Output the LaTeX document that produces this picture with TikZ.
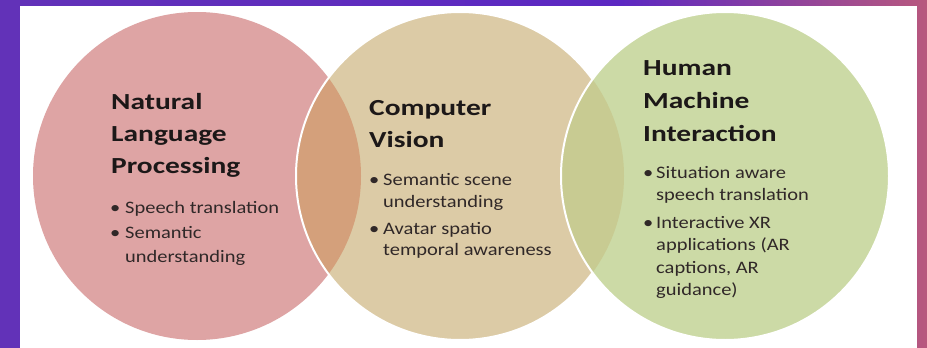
\documentclass[tikz,border=0pt]{standalone}
\usepackage{fontspec}
\setmainfont[FakeStretch=1.28]{Carlito}
\newfontfamily\itemfont[FakeStretch=1.17]{Carlito}
\definecolor{pinkc}{RGB}{222,164,164}
\definecolor{beigec}{RGB}{220,203,166}
\definecolor{greenc}{RGB}{204,218,166}
\definecolor{ovA}{RGB}{212,160,123}
\definecolor{ovB}{RGB}{200,203,146}
\definecolor{titlecol}{RGB}{28,24,24}
\definecolor{itemcol}{RGB}{48,40,40}
\definecolor{bgL}{RGB}{98,50,184}
\definecolor{bgM}{RGB}{92,40,194}
\definecolor{bgR}{RGB}{184,88,126}
\begin{document}
\begin{tikzpicture}[x=1pt,y=-1pt,
  title/.style={anchor=base west, inner sep=0pt, font=\fontsize{23}{32}\selectfont\bfseries, text=titlecol},
  item/.style={anchor=base west, inner sep=0pt, font=\itemfont\fontsize{17.5}{22}\selectfont, text=itemcol},
  venn/.style={circle, minimum size=328pt, inner sep=0pt}]
\useasboundingbox (0,0) rectangle (927,348);
% background
\shade[left color=bgL, right color=bgM] (0,0) rectangle (620,348);
\shade[left color=bgM, right color=bgR] (620,0) rectangle (927,348);
\fill[white] (20,6) rectangle (917,348);
% circles
\node[venn, fill=pinkc] (nlp) at (197,176) {};
\node[venn, fill=beigec] (cv) at (460,176) {};
\begin{scope}
  \clip (nlp.center) circle[radius=164pt];
  \fill[ovA] (cv.center) circle[radius=164pt];
\end{scope}
\draw[white, line width=2pt] (cv.center) circle[radius=164pt];
\node[venn, fill=greenc] (hmi) at (725,176) {};
\begin{scope}
  \clip (cv.center) circle[radius=164pt];
  \fill[ovB] (hmi.center) circle[radius=164pt];
\end{scope}
\draw[white, line width=2pt] (hmi.center) circle[radius=164pt];
% left texts
\node[title] (a1) at (111,109) {Natural};
\node[title] (a2) at (111,141) {Language};
\node[title] (a3) at (111,173) {Processing};
\node[item] (ab1) at (110,213) {•};
\node[item] (ai1) at (125,213) {Speech translation};
\node[item] (ab2) at (110,238) {•};
\node[item] (ai2) at (125,238) {Semantic};
\node[item] (ai3) at (125,262) {understanding};
% middle texts
\node[title] (b1) at (369,115) {Computer};
\node[title] (b2) at (369,147) {Vision};
\node[item] (bb1) at (369,185) {•};
\node[item] (bi1) at (383,185) {Semantic scene};
\node[item] (bi2) at (383,207) {understanding};
\node[item] (bb2) at (369,234) {•};
\node[item] (bi3) at (383,234) {Avatar spatio};
\node[item] (bi4) at (383,255) {temporal awareness};
% right texts
\node[title] (c1) at (643,75) {Human};
\node[title] (c2) at (643,108) {Machine};
\node[title] (c3) at (643,141) {Interaction};
\node[item] (cb1) at (643,178) {•};
\node[item] (ci1) at (656,178) {Situation aware};
\node[item] (ci2) at (656,200) {speech translation};
\node[item] (cb2) at (643,228) {•};
\node[item] (ci3) at (656,228) {Interactive XR};
\node[item] (ci4) at (656,250) {applications (AR};
\node[item] (ci5) at (656,273) {captions, AR};
\node[item] (ci6) at (656,295) {guidance)};
\end{tikzpicture}
\end{document}
